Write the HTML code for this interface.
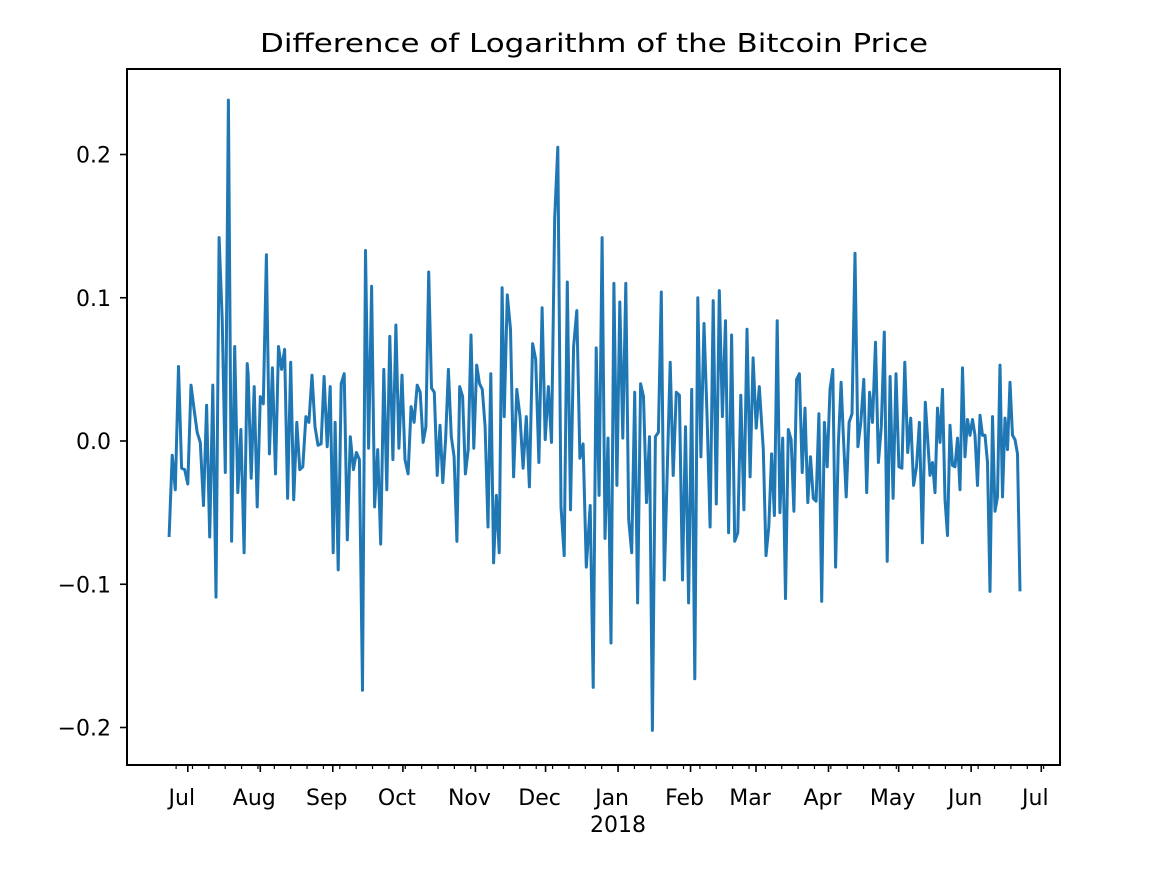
<!DOCTYPE html>
<html><head><meta charset="utf-8"><style>
body{margin:0;background:#fff}
svg text{font-family:"DejaVu Sans","Liberation Sans",sans-serif;fill:#000}
</style></head><body>
<svg id="chart" width="1162" height="872" xmlns="http://www.w3.org/2000/svg">
<rect width="1162" height="872" fill="#fff"/>
<text x="594" y="52" font-size="26" text-anchor="middle" textLength="668" lengthAdjust="spacingAndGlyphs">Difference of Logarithm of the Bitcoin Price</text>
<g id="plot"></g>
</svg>
<script>
const startDate = "2017-06-23";
const endDate = "2018-06-22";
const segStartDay = [0,33.8,71.0,107.4,143.3,180.1,215.6,254.1,288.3,325.4];
const segEndDay = [33.4,70.2,106.1,142.4,178.4,214.3,252.4,287.4,323.4,363.9];
const seg1 = [-.067,-.010,-.034,.052,-.019,-.020,-.030,.039,.022,.006,-.001,-.045,.025,-.067,.039,-.109,.142,.085,-.022,.238,-.070,.066,-.036,.008,-.078,.054];
const seg2 = [.047,-.026,.038,-.046,.031,.026,.130,-.009,.051,-.023,.066,.050,.064,-.040,.055,-.041,.013,-.020,-.018,.017,.013,.046,.010,-.003,-.002,.045,-.004,.038,-.078];
const seg3 = [.013,-.090,.040,.047,-.069,.003,-.020,-.008,-.013,-.174,.133,-.005,.108,-.046,-.006,-.072,.050,-.034,.073,-.013,.081,-.005,.046,-.013,-.023,.024,.013,.039];
const seg4 = [.034,-.001,.010,.118,.037,.034,-.024,.011,-.029,.001,.050,.003,-.011,-.070,.038,.031,-.023,-.006,.074,-.005,.053,.040,.036,.010,-.060,.047,-.085,-.038,-.078,.107];
const seg5 = [.017,.102,.078,-.025,.036,.017,-.019,.017,-.032,.068,.057,-.015,.093,.001,.038,-.001,.156,.205,-.046,-.080,.111,-.048,.066,.091,-.012,-.002,-.088];
const seg6 = [-.045,-.172,.065,-.038,.142,-.068,.002,-.141,.110,-.031,.097,.002,.110,-.055,-.078,.034,-.113,.040,.031,-.043,.003,-.202,.003,.006,.104,-.097,-.022,.055];
const seg7 = [-.024,.034,.032,-.097,.010,-.113,.036,-.166,.100,-.011,.082,.019,-.060,.098,-.044,.105,.017,.084,-.064,.074,-.070,-.064,.032,-.048,.078,-.025,.058,.009,.038];
const seg8 = [-.006,-.080,-.060,-.009,-.052,.084,-.050,.002,-.110,.008,.001,-.049,.043,.047,-.022,.023,-.043,-.011,-.040,-.042,.019,-.112,.013,-.018,.036,.050,-.088,-.003,.041];
const seg9 = [.006,-.039,.013,.019,.131,-.004,.013,.043,-.036,.034,.013,.069,-.015,.010,.076,-.084,.045,-.040,.047,-.018,-.019,.055,-.008,.016,-.031,-.018,.013,-.071,.027];
const seg10 = [-.024,-.015,-.036,.023,-.001,.036,-.041,-.066,.011,-.017,-.018,.002,-.034,.051,-.011,.015,.004,.015,.004,-.031,.018,.004,.004,-.015,-.105,.017,-.049,-.039,.053,-.039,.016,-.006,.041,.004,.001,-.009,-.105];
const segments = [seg1,seg2,seg3,seg4,seg5,seg6,seg7,seg8,seg9,seg10];
const yTicks = [-0.2,-0.1,0.0,0.1,0.2];
const yTickLabels = ["\u22120.2","\u22120.1","0.0","0.1","0.2"];
const monthTicks = ["2017-07-01","2017-08-01","2017-09-01","2017-10-01","2017-11-01","2017-12-01","2018-01-01","2018-02-01","2018-03-01","2018-04-01","2018-05-01","2018-06-01","2018-07-01"];
const monthLabels = ["Jul","Aug","Sep","Oct","Nov","Dec","Jan","Feb","Mar","Apr","May","Jun","Jul"];

const L=127,R=1060,T=69,B=765;
const DAY=86400000;
const t0=Date.parse(startDate);
const dMin=-18, dMax=381;
const days = d => (Date.parse(d)-t0)/DAY;
const x = dd => L + (dd-dMin)/(dMax-dMin)*(R-L);
const y = v => 441 - v*1432.5;
const NS="http://www.w3.org/2000/svg";
const g=document.getElementById('plot');
function mk(tag,attrs){const e=document.createElementNS(NS,tag);for(const k in attrs)e.setAttribute(k,attrs[k]);g.appendChild(e);return e;}

let d="", first=true;
segments.forEach((s,si)=>{
  s.forEach((v,i)=>{
    const dd=segStartDay[si]+(segEndDay[si]-segStartDay[si])*i/Math.max(1,s.length-1);
    d+=(first?"M":"L")+x(dd).toFixed(1)+","+y(v).toFixed(1);first=false;
  });
});
const line=mk('path',{d:d,fill:'none',stroke:'#1f77b4','stroke-width':3,'stroke-linejoin':'round'});



const frame=mk('rect',{x:L,y:T,width:R-L,height:B-T,fill:'none',stroke:'#000','stroke-width':2});



yTicks.forEach((v,i)=>{
  const tk=mk('line',{x1:L-7,x2:L,y1:y(v),y2:y(v),stroke:'#000','stroke-width':1.6});
  
  
  const t=mk('text',{x:L-16,y:y(v)+8,'font-size':22,'text-anchor':'end'});
  t.textContent=yTickLabels[i];
  
  
});
for(let dd=3; dd<dMax; dd+=7){ if(dd<dMin) continue;
  const m=mk('line',{x1:x(dd),x2:x(dd),y1:B,y2:B+4,stroke:'#000','stroke-width':1.2});
  
  
}
monthTicks.forEach((mt,i)=>{
  const xx=x(days(mt));
  const tk=mk('line',{x1:xx,x2:xx,y1:B,y2:B+7,stroke:'#000','stroke-width':1.6});
  
  
  const t=mk('text',{x:xx-6,y:B+40,'font-size':22,'text-anchor':'middle'});
  t.textContent=monthLabels[i];
  
  
});
const yr=mk('text',{x:x(days("2018-01-01")),y:B+67,'font-size':22,'text-anchor':'middle'});
yr.textContent="2018";


</script>
</body></html>
